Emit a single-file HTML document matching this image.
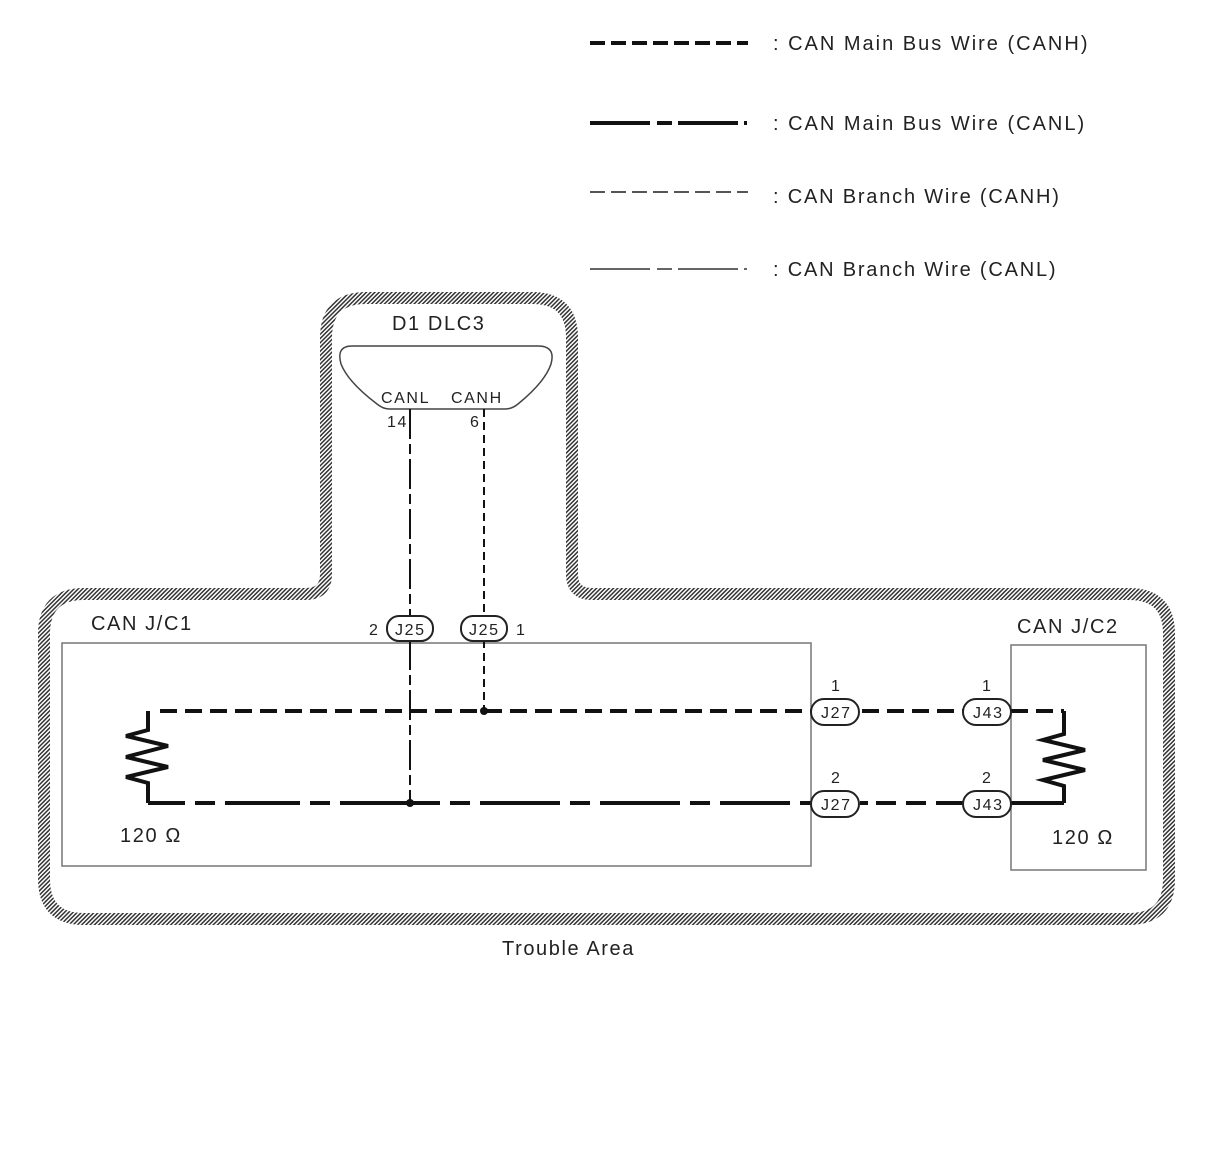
<!DOCTYPE html>
<html><head><meta charset="utf-8"><style>
html,body{margin:0;padding:0;background:#fff}
svg{display:block}
text{font-family:"Liberation Sans",sans-serif;fill:#222;letter-spacing:1.6px}
</style></head><body>
<svg width="1210" height="1156" viewBox="0 0 1210 1156" xmlns="http://www.w3.org/2000/svg">
<defs>
<pattern id="h" width="3" height="3" patternUnits="userSpaceOnUse" patternTransform="rotate(45)">
<rect width="3" height="3" fill="#fff"/><rect width="1.5" height="3" fill="#333"/>
</pattern>
</defs>
<!-- legend -->
<line x1="590" y1="43" x2="748" y2="43" stroke="#111" stroke-width="4" stroke-dasharray="15 6"/>
<path d="M590 123H650M657 123H672M678 123H738M744 123H747" stroke="#111" stroke-width="4"/>
<line x1="590" y1="192" x2="748" y2="192" stroke="#555" stroke-width="2" stroke-dasharray="15 6"/>
<path d="M590 269H650M657 269H672M678 269H738M744 269H747" stroke="#666" stroke-width="2"/>
<text x="773" y="50" font-size="20" style="letter-spacing:2px">: CAN Main Bus Wire (CANH)</text>
<text x="773" y="130" font-size="20" style="letter-spacing:2px">: CAN Main Bus Wire (CANL)</text>
<text x="773" y="203" font-size="20" style="letter-spacing:1.8px">: CAN Branch Wire (CANH)</text>
<text x="773" y="276" font-size="20" style="letter-spacing:1.8px">: CAN Branch Wire (CANL)</text>
<!-- trouble area -->
<path d="M44 634Q44 594 84 594L306 594Q326 594 326 574L326 338Q326 298 366 298L532 298Q572 298 572 338L572 574Q572 594 592 594L1129 594Q1169 594 1169 634L1169 879Q1169 919 1129 919L84 919Q44 919 44 879Z" fill="none" stroke="url(#h)" stroke-width="12"/>
<text x="392" y="330" font-size="20">D1 DLC3</text>
<path d="M352 346H538Q556 346 551 364Q545 382 518 404Q512 409 505 409H390Q383 409 377 404Q348 382 341 364Q336 346 352 346Z" fill="none" stroke="#444" stroke-width="1.5"/>
<text x="381" y="403" font-size="16">CANL</text>
<text x="451" y="403" font-size="16">CANH</text>
<text x="387" y="427" font-size="16">14</text>
<text x="470" y="427" font-size="16">6</text>
<!-- boxes -->
<rect x="62" y="643" width="749" height="223" fill="none" stroke="#777" stroke-width="1.5"/>
<rect x="1011" y="645" width="135" height="225" fill="none" stroke="#777" stroke-width="1.5"/>
<text x="91" y="630" font-size="20">CAN J/C1</text>
<text x="1017" y="633" font-size="20">CAN J/C2</text>
<!-- branch wires -->
<path d="M410 409V616M410 640V803" stroke="#111" stroke-width="2" stroke-dasharray="30 5 10 5"/>
<path d="M484 409V616M484 640V711" stroke="#111" stroke-width="2" stroke-dasharray="8 5"/>
<!-- main wires -->
<path d="M160 711H811M862 711H963" stroke="#111" stroke-width="4" stroke-dasharray="17 8"/>
<path d="M1011 711H1064" stroke="#111" stroke-width="4" stroke-dasharray="17 8"/>
<path d="M148 803H185M195 803H215M225 803H300M310 803H330M340 803H410M410 803H440M450 803H470M480 803H560M570 803H590M600 803H680M690 803H710M720 803H790M800 803H811M860 803H868M876 803H896M906 803H926M936 803H963M1011 803H1064" stroke="#111" stroke-width="4"/>
<path d="M148 711V730L126 736L168 746L126 757L168 767L126 777L148 783V803" fill="none" stroke="#111" stroke-width="4"/>
<path d="M1064 711V734L1043 740L1085 750L1043 760L1085 770L1043 780L1064 786V803" fill="none" stroke="#111" stroke-width="4"/>
<circle cx="484" cy="711" r="4" fill="#111"/>
<circle cx="410" cy="803" r="4" fill="#111"/>
<!-- connectors -->
<g fill="#fff" stroke="#222" stroke-width="2">
<rect x="387" y="616" width="46" height="25" rx="12"/>
<rect x="461" y="616" width="46" height="25" rx="12"/>
<rect x="811" y="699" width="48" height="26" rx="13"/>
<rect x="963" y="699" width="48" height="26" rx="13"/>
<rect x="811" y="791" width="48" height="26" rx="13"/>
<rect x="963" y="791" width="48" height="26" rx="13"/>
</g>
<g font-size="16" style="letter-spacing:0">
<text x="395" y="635">J25</text><text x="469" y="635">J25</text>
<text x="821" y="718">J27</text><text x="973" y="718">J43</text>
<text x="821" y="810">J27</text><text x="973" y="810">J43</text>
<text x="369" y="635">2</text><text x="516" y="635">1</text>
<text x="831" y="691">1</text><text x="982" y="691">1</text>
<text x="831" y="783">2</text><text x="982" y="783">2</text>
</g>
<text x="120" y="842" font-size="20">120 Ω</text>
<text x="1052" y="844" font-size="20">120 Ω</text>
<text x="502" y="955" font-size="20">Trouble Area</text>
</svg>
</body></html>
